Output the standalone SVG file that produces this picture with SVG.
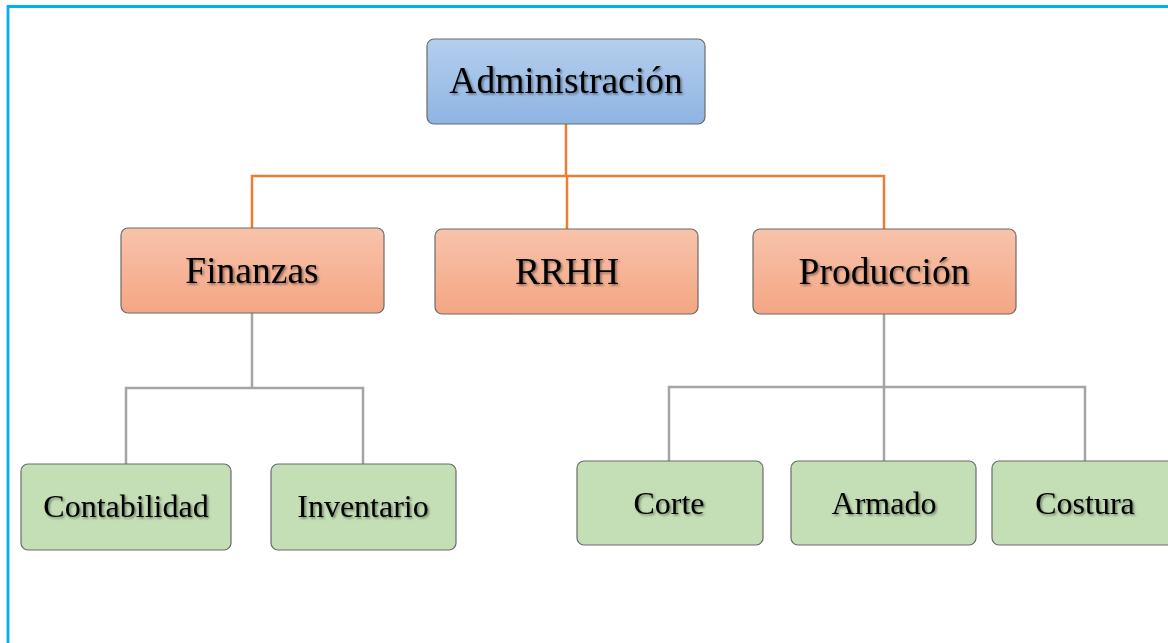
<svg xmlns="http://www.w3.org/2000/svg" width="1168" height="643" viewBox="0 0 1168 643">
<style>
.box{stroke:#6b6b6b;stroke-width:1.2}
.t{font-family:"Liberation Serif","Times New Roman",serif;fill:#000;text-anchor:middle;filter:url(#sh)}
.l1{font-size:37.5px}
.l3{font-size:32px}
.or{fill:none;stroke:#ED7D31;stroke-width:2.5}
.gr{fill:none;stroke:#A5A5A5;stroke-width:2.5}
</style>
<defs>
<linearGradient id="gb" x1="0" y1="0" x2="0" y2="1"><stop offset="0" stop-color="#B5CFED"/><stop offset="1" stop-color="#8EB4E3"/></linearGradient>
<linearGradient id="go" x1="0" y1="0" x2="0" y2="1"><stop offset="0" stop-color="#F8C3AB"/><stop offset="1" stop-color="#F4A683"/></linearGradient>
<filter id="sh" x="-10%" y="-20%" width="120%" height="150%"><feDropShadow dx="1.5" dy="1.5" stdDeviation="1.2" flood-color="#000" flood-opacity="0.45"/></filter>
</defs>
<rect width="1168" height="643" fill="#fff"/>
<path d="M8,643 V6.5 H1168" fill="none" stroke="#00B0F0" stroke-width="2.8"/>
<g id="connectors">
<path class="or" d="M566,124 V176 M252,228 V176 H884 V229 M567,176 V229"/>
<path class="gr" d="M252,313 V388 M126,464 V388 H363 V464"/>
<path class="gr" d="M884,314 V387 M669,461 V387 H1085 V461 M884,387 V461"/>
</g>
<g id="administracion"><rect class="box" x="427" y="39" width="278" height="85" rx="7" fill="url(#gb)"/><text class="t l1" x="566" y="93">Administración</text></g>
<g id="finanzas"><rect class="box" x="121" y="228" width="263" height="85" rx="7" fill="url(#go)"/><text class="t l1" x="252" y="283">Finanzas</text></g>
<g id="rrhh"><rect class="box" x="435" y="229" width="263" height="85" rx="7" fill="url(#go)"/><text class="t l1" x="567" y="284">RRHH</text></g>
<g id="produccion"><rect class="box" x="753" y="229" width="263" height="85" rx="7" fill="url(#go)"/><text class="t l1" x="884" y="284">Producción</text></g>
<g id="contabilidad"><rect class="box" x="21" y="464" width="210" height="86" rx="7" fill="#C4DFB5"/><text class="t l3" x="126" y="517">Contabilidad</text></g>
<g id="inventario"><rect class="box" x="271" y="464" width="185" height="86" rx="7" fill="#C4DFB5"/><text class="t l3" x="363" y="517">Inventario</text></g>
<g id="corte"><rect class="box" x="577" y="461" width="186" height="84" rx="7" fill="#C4DFB5"/><text class="t l3" x="669" y="514">Corte</text></g>
<g id="armado"><rect class="box" x="791" y="461" width="185" height="84" rx="7" fill="#C4DFB5"/><text class="t l3" x="884" y="514">Armado</text></g>
<g id="costura"><rect class="box" x="992" y="461" width="186" height="84" rx="7" fill="#C4DFB5"/><text class="t l3" x="1085" y="514">Costura</text></g>
</svg>
